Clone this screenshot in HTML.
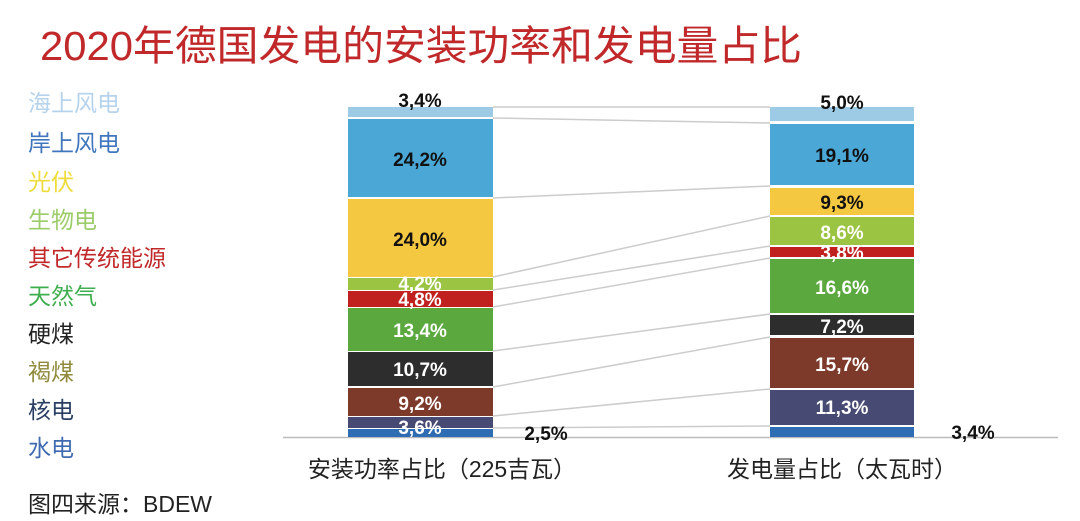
<!DOCTYPE html>
<html><head><meta charset="utf-8"><style>
body{margin:0;background:#fff;}
svg{display:block;font-family:"Liberation Sans","Noto Sans CJK SC",sans-serif;}
</style></head><body>
<svg width="1080" height="521" viewBox="0 0 1080 521" xmlns="http://www.w3.org/2000/svg">
<rect width="1080" height="521" fill="#fff"/>
<text x="40" y="60" font-size="41" fill="#c0282a" textLength="762" lengthAdjust="spacingAndGlyphs">2020年德国发电的安装功率和发电量占比</text>
<g font-size="23">
<text x="28" y="111" fill="#b5d3ec">海上风电</text>
<text x="28" y="151" fill="#3f76bd">岸上风电</text>
<text x="28" y="190" fill="#eedc3a">光伏</text>
<text x="28" y="228" fill="#9ccc6a">生物电</text>
<text x="28" y="266" fill="#c0282a">其它传统能源</text>
<text x="28" y="304" fill="#3fae4f">天然气</text>
<text x="28" y="342" fill="#222">硬煤</text>
<text x="28" y="380" fill="#8f8a3c">褐煤</text>
<text x="28" y="418" fill="#2a3e63">核电</text>
<text x="28" y="456" fill="#3f6ab0">水电</text>
</g>
<text x="28" y="512" font-size="23" fill="#222">图四来源：BDEW</text>
<line x1="283" y1="437.5" x2="1058" y2="437.5" stroke="#bbb" stroke-width="1.5"/>
<g stroke="#ccc" stroke-width="1.5">
<line x1="493" y1="107" x2="770" y2="107"/>
<line x1="493" y1="118" x2="770" y2="123"/>
<line x1="493" y1="198" x2="770" y2="186"/>
<line x1="493" y1="277" x2="770" y2="216"/>
<line x1="493" y1="290" x2="770" y2="246"/>
<line x1="493" y1="307" x2="770" y2="258"/>
<line x1="493" y1="351" x2="770" y2="314"/>
<line x1="493" y1="387" x2="770" y2="337"/>
<line x1="493" y1="416" x2="770" y2="389"/>
<line x1="493" y1="428" x2="770" y2="426"/>
</g>
<g>
<rect x="348" y="107" width="145" height="10" fill="#9dcbe6"/>
<rect x="348" y="119" width="145" height="78" fill="#4aa7d6"/>
<rect x="348" y="199" width="145" height="78" fill="#f5c842"/>
<rect x="348" y="278" width="145" height="12" fill="#9cc443"/>
<rect x="348" y="291" width="145" height="16" fill="#c0211f"/>
<rect x="348" y="308" width="145" height="43" fill="#5aa83e"/>
<rect x="348" y="352" width="145" height="34" fill="#2d2d2d"/>
<rect x="348" y="388" width="145" height="28" fill="#7d3a2b"/>
<rect x="348" y="417" width="145" height="11" fill="#474a72"/>
<rect x="348" y="429" width="145" height="8" fill="#2e6db3"/>

<rect x="770" y="107" width="144" height="14" fill="#9dcbe6"/>
<rect x="770" y="124" width="144" height="61" fill="#4aa7d6"/>
<rect x="770" y="188" width="144" height="27" fill="#f5c842"/>
<rect x="770" y="217" width="144" height="28" fill="#9cc443"/>
<rect x="770" y="247" width="144" height="10" fill="#c0211f"/>
<rect x="770" y="259" width="144" height="54" fill="#5aa83e"/>
<rect x="770" y="315" width="144" height="20" fill="#2d2d2d"/>
<rect x="770" y="338" width="144" height="50" fill="#7d3a2b"/>
<rect x="770" y="390" width="144" height="35" fill="#474a72"/>
<rect x="770" y="427" width="144" height="10" fill="#2e6db3"/>
</g>
<g font-size="19" font-weight="bold" text-anchor="middle">
<text x="420" y="107" fill="#111">3,4%</text>
<text x="420" y="166" fill="#111">24,2%</text>
<text x="420" y="246" fill="#111">24,0%</text>
<text x="420" y="290" fill="#fff">4,2%</text>
<text x="420" y="306" fill="#fff">4,8%</text>
<text x="420" y="337" fill="#fff">13,4%</text>
<text x="420" y="376" fill="#fff">10,7%</text>
<text x="420" y="410" fill="#fff">9,2%</text>
<text x="420" y="434" fill="#fff">3,6%</text>
<text x="546" y="440" fill="#111">2,5%</text>

<text x="842" y="109" fill="#111">5,0%</text>
<text x="842" y="162" fill="#111">19,1%</text>
<text x="842" y="209" fill="#111">9,3%</text>
<text x="842" y="239" fill="#fff">8,6%</text>
<text x="842" y="259" fill="#fff">3,8%</text>
<text x="842" y="294" fill="#fff">16,6%</text>
<text x="842" y="333" fill="#fff">7,2%</text>
<text x="842" y="371" fill="#fff">15,7%</text>
<text x="842" y="414" fill="#fff">11,3%</text>
<text x="973" y="439" fill="#111">3,4%</text>
</g>
<g font-size="23" fill="#222" text-anchor="middle">
<text x="442" y="477">安装功率占比（225吉瓦）</text>
<text x="842" y="477">发电量占比（太瓦时）</text>
</g>
</svg>
</body></html>
